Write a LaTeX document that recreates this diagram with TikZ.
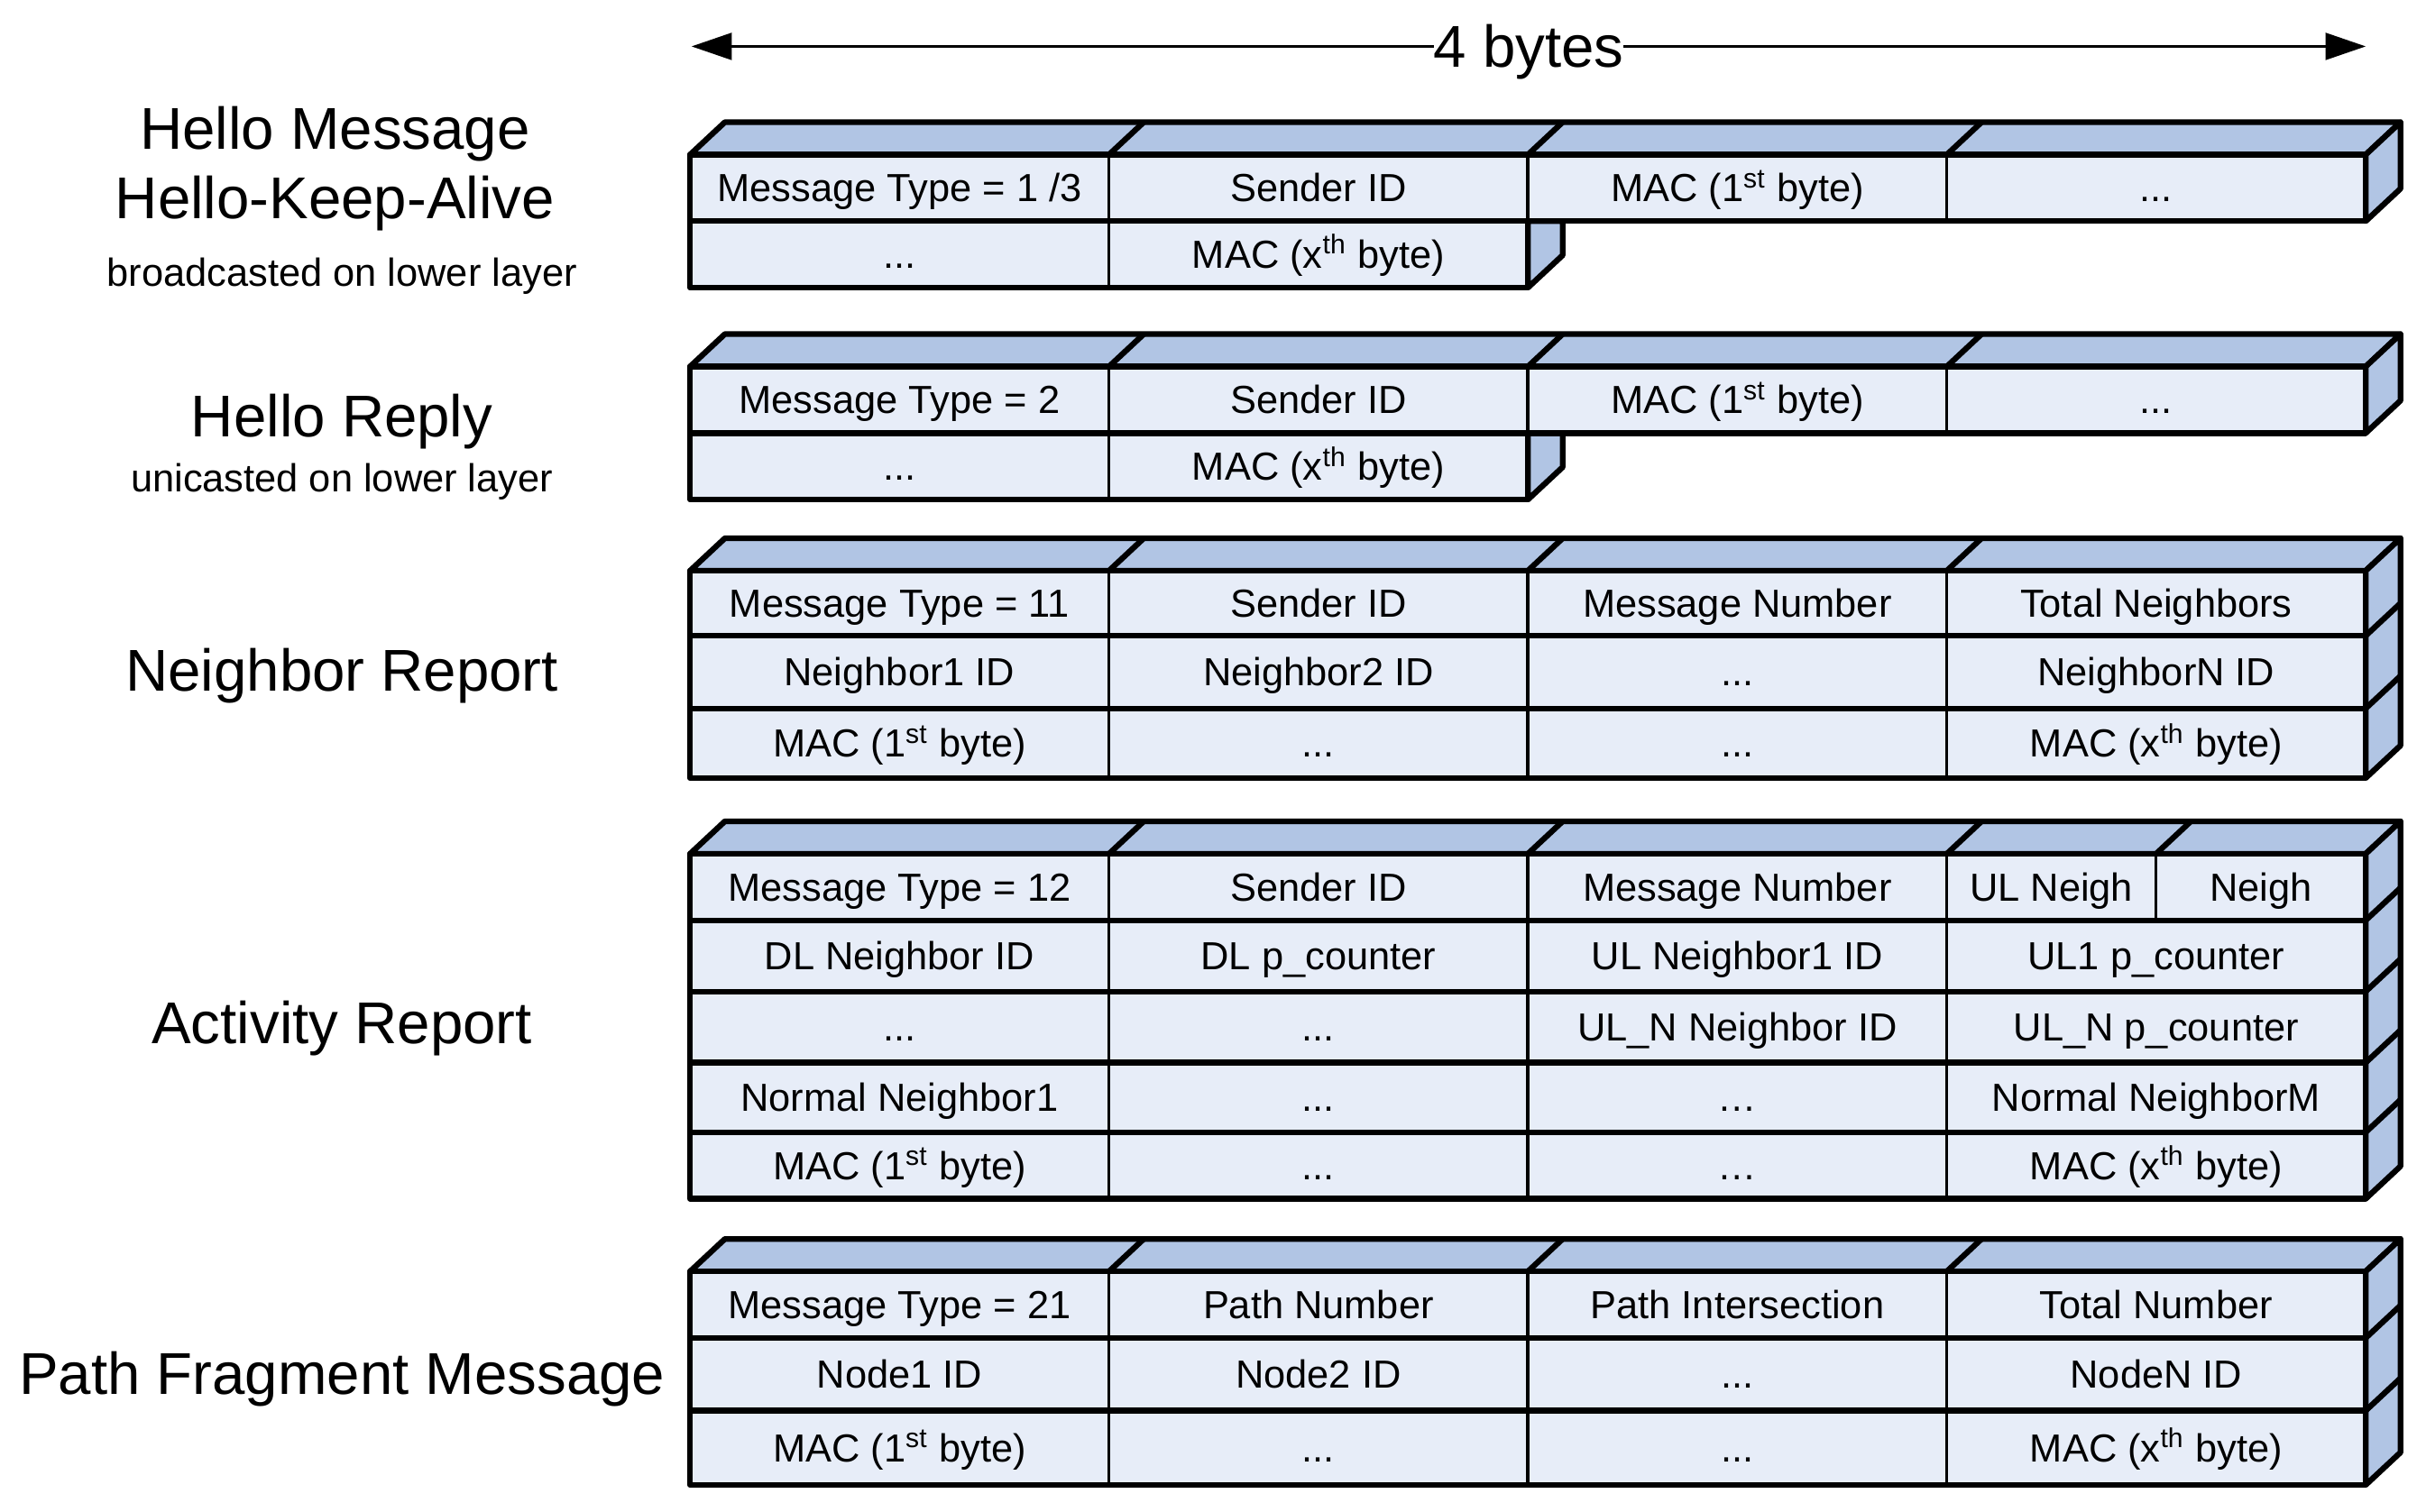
\documentclass[tikz,border=0pt]{standalone}
\usepackage{fontspec}
\setmainfont{Liberation Sans}
\usetikzlibrary{arrows.meta}
\definecolor{frontclr}{RGB}{231,237,248}
\definecolor{topclr}{RGB}{177,197,228}
\newcommand{\morefields}{...}
\begin{document}
\begin{tikzpicture}[x=0.02cm, y=-0.02cm,
  cell/.style={draw, line width=1.1pt, fill=frontclr},
  edge/.style={line width=2.1pt, line join=round},
  face/.style={fill=topclr, draw, line width=2.1pt, line join=round},
  field/.style={font=\fontsize{14.4}{17}\selectfont, text height=10.3pt, text depth=0pt, inner sep=0pt},
  title/.style={font=\fontsize{21.7}{26}\selectfont, text height=15.5pt, text depth=0pt, inner sep=0pt},
  note/.style={font=\fontsize{14.4}{17}\selectfont, text height=10.3pt, text depth=0pt, inner sep=0pt}]

  \useasboundingbox (0,0) rectangle (1568,977.5);

  % width of the frame
  \coordinate (bl) at (447,30);
  \coordinate (br) at (1529,30);
  \draw[{Triangle[length=5.2mm,width=3.5mm]}-{Triangle[length=5.2mm,width=3.5mm]}, line width=0.7pt] (bl) -- (br) node[midway, title, fill=white] (bytes) {4 bytes};

  % labels
  \node[title] (hello) at (216.5,83) {Hello Message};
  \node[title] (alive) at (216.5,128) {Hello-Keep-Alive};
  \node[note] (bcast) at (221,176) {broadcasted on lower layer};
  \node[title] (reply) at (221,269) {Hello Reply};
  \node[note] (ucast) at (221,309) {unicasted on lower layer};
  \node[title] (nrep) at (221,433) {Neighbor Report};
  \node[title] (arep) at (221,661) {Activity Report};
  \node[title] (pfrag) at (221,888) {Path Fragment Message};

  % Hello Message
  \draw[face] (446,100) -- ++(22.5,-21) -- (1551.5,79) -- (1529,100) -- cycle;
  \foreach \x in {716.75,987.5,1258.25} \draw[edge] (\x,100) -- ++(22.5,-21);
  \draw[face] (1529,100) -- ++(22.5,-21) -- (1551.5,122) -- (1529,143) -- cycle;
  \draw[face] (987.5,143) -- (1010,143) -- (1010,165) -- (987.5,186) -- cycle;
  \foreach \t [count=\i from 0] in {{Message Type = 1 /3}, Sender ID, MAC (1\textsuperscript{st} byte), \morefields}
    \draw[cell] ({446+270.75*\i},100) rectangle ++(270.75,43) node[pos=.5, field] (hm1\i) {\t};
  \foreach \t [count=\i from 0] in {\morefields, MAC (x\textsuperscript{th} byte)}
    \draw[cell] ({446+270.75*\i},143) rectangle ++(270.75,43) node[pos=.5, field] (hm2\i) {\t};
  \draw[edge] (446,100) rectangle (1529,143);
  \draw[edge] (446,143) rectangle (987.5,186);

  % Hello Reply
  \draw[face] (446,237) -- ++(22.5,-21) -- (1551.5,216) -- (1529,237) -- cycle;
  \foreach \x in {716.75,987.5,1258.25} \draw[edge] (\x,237) -- ++(22.5,-21);
  \draw[face] (1529,237) -- ++(22.5,-21) -- (1551.5,259) -- (1529,280) -- cycle;
  \draw[face] (987.5,280) -- (1010,280) -- (1010,302) -- (987.5,323) -- cycle;
  \foreach \t [count=\i from 0] in {{Message Type = 2}, Sender ID, MAC (1\textsuperscript{st} byte), \morefields}
    \draw[cell] ({446+270.75*\i},237) rectangle ++(270.75,43) node[pos=.5, field] (hr1\i) {\t};
  \foreach \t [count=\i from 0] in {\morefields, MAC (x\textsuperscript{th} byte)}
    \draw[cell] ({446+270.75*\i},280) rectangle ++(270.75,43) node[pos=.5, field] (hr2\i) {\t};
  \draw[edge] (446,237) rectangle (1529,280);
  \draw[edge] (446,280) rectangle (987.5,323);

  % Neighbor Report
  \draw[face] (446,369) -- ++(22.5,-21) -- (1551.5,348) -- (1529,369) -- cycle;
  \foreach \x in {716.75,987.5,1258.25} \draw[edge] (\x,369) -- ++(22.5,-21);
  \draw[face] (1529,369) -- ++(22.5,-21) -- (1551.5,482) -- (1529,503) -- cycle;
  \foreach \r in {411,458} \draw[edge] (1529,\r) -- ++(22.5,-21);
  \foreach \t [count=\i from 0] in {{Message Type = 11}, Sender ID, Message Number, Total Neighbors}
    \draw[cell] ({446+270.75*\i},369) rectangle ++(270.75,42) node[pos=.5, field] (nr1\i) {\t};
  \foreach \t [count=\i from 0] in {Neighbor1 ID, Neighbor2 ID, \morefields, NeighborN ID}
    \draw[cell] ({446+270.75*\i},411) rectangle ++(270.75,47) node[pos=.5, field] (nr2\i) {\t};
  \foreach \t [count=\i from 0] in {MAC (1\textsuperscript{st} byte), \morefields, \morefields, MAC (x\textsuperscript{th} byte)}
    \draw[cell] ({446+270.75*\i},458) rectangle ++(270.75,45) node[pos=.5, field] (nr3\i) {\t};
  \foreach \a/\b in {369/411, 411/458, 458/503} \draw[edge] (446,\a) rectangle (1529,\b);

  % Activity Report
  \draw[face] (446,552) -- ++(22.5,-21) -- (1551.5,531) -- (1529,552) -- cycle;
  \foreach \x in {716.75,987.5,1258.25,1393.5} \draw[edge] (\x,552) -- ++(22.5,-21);
  \draw[face] (1529,552) -- ++(22.5,-21) -- (1551.5,754) -- (1529,775) -- cycle;
  \foreach \r in {595,641,687,732} \draw[edge] (1529,\r) -- ++(22.5,-21);
  \foreach \t [count=\i from 0] in {{Message Type = 12}, Sender ID, Message Number}
    \draw[cell] ({446+270.75*\i},552) rectangle ++(270.75,43) node[pos=.5, field] (ar1\i) {\t};
  \draw[cell] (1258.25,552) rectangle (1393.5,595) node[pos=.5, field] (ar13) {UL Neigh};
  \draw[cell] (1393.5,552) rectangle (1529,595) node[pos=.5, field] (ar14) {Neigh};
  \foreach \t [count=\i from 0] in {DL Neighbor ID, DL p\_counter, UL Neighbor1 ID, UL1 p\_counter}
    \draw[cell] ({446+270.75*\i},595) rectangle ++(270.75,46) node[pos=.5, field] (ar2\i) {\t};
  \foreach \t [count=\i from 0] in {\morefields, \morefields, UL\_N Neighbor ID, UL\_N p\_counter}
    \draw[cell] ({446+270.75*\i},641) rectangle ++(270.75,46) node[pos=.5, field] (ar3\i) {\t};
  \foreach \t [count=\i from 0] in {Normal Neighbor1, \morefields, \dots, Normal NeighborM}
    \draw[cell] ({446+270.75*\i},687) rectangle ++(270.75,45) node[pos=.5, field] (ar4\i) {\t};
  \foreach \t [count=\i from 0] in {MAC (1\textsuperscript{st} byte), \morefields, \dots, MAC (x\textsuperscript{th} byte)}
    \draw[cell] ({446+270.75*\i},732) rectangle ++(270.75,43) node[pos=.5, field] (ar5\i) {\t};
  \foreach \a/\b in {552/595, 595/641, 641/687, 687/732, 732/775} \draw[edge] (446,\a) rectangle (1529,\b);

  % Path Fragment Message
  \draw[face] (446,822) -- ++(22.5,-21) -- (1551.5,801) -- (1529,822) -- cycle;
  \foreach \x in {716.75,987.5,1258.25} \draw[edge] (\x,822) -- ++(22.5,-21);
  \draw[face] (1529,822) -- ++(22.5,-21) -- (1551.5,939) -- (1529,960) -- cycle;
  \foreach \r in {865,912} \draw[edge] (1529,\r) -- ++(22.5,-21);
  \foreach \t [count=\i from 0] in {{Message Type = 21}, Path Number, Path Intersection, Total Number}
    \draw[cell] ({446+270.75*\i},822) rectangle ++(270.75,43) node[pos=.5, field] (pf1\i) {\t};
  \foreach \t [count=\i from 0] in {Node1 ID, Node2 ID, \morefields, NodeN ID}
    \draw[cell] ({446+270.75*\i},865) rectangle ++(270.75,47) node[pos=.5, field] (pf2\i) {\t};
  \foreach \t [count=\i from 0] in {MAC (1\textsuperscript{st} byte), \morefields, \morefields, MAC (x\textsuperscript{th} byte)}
    \draw[cell] ({446+270.75*\i},912) rectangle ++(270.75,48) node[pos=.5, field] (pf3\i) {\t};
  \foreach \a/\b in {822/865, 865/912, 912/960} \draw[edge] (446,\a) rectangle (1529,\b);

\end{tikzpicture}
\end{document}
